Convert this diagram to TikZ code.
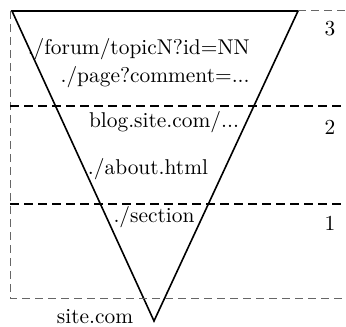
\documentclass[tikz,border=0pt]{standalone}
\usepackage{tikz}

\tikzset{
    level/.style={line width=1pt, dash pattern=on 4.5pt off 2.5pt},
    frame/.style={gray!80!black, line width=0.5pt, dash pattern=on 4pt off 2.5pt},
    url/.style={inner sep=1pt},
    every node/.style={font=\fontsize{10.7}{13}\selectfont}
}

\begin{document}
\begin{tikzpicture}[x=0.5pt,y=-0.5pt]
    \useasboundingbox (0,0) rectangle (346,326);
    % the funnel
    \coordinate (tl) at (12,11);
    \coordinate (tr) at (298,11);
    \coordinate (tip) at (154,321);
    \draw[line width=0.8pt, line join=miter] (tl) -- (tr) -- (tip) -- cycle;
    % outer frame
    \coordinate (f1) at (10,11);
    \coordinate (f2) at (10,298);
    \coordinate (f3) at (346,298);
    \coordinate (f4) at (298,11);
    \coordinate (f5) at (346,11);
    \draw[frame] (f1) -- (f2) -- (f3);
    \draw[frame] (f4) -- (f5);
    % levels
    \coordinate (a1) at (10,106);
    \coordinate (a2) at (346,106);
    \coordinate (b1) at (10,204);
    \coordinate (b2) at (346,204);
    \draw[level] (a1) -- (a2);
    \draw[level] (b1) -- (b2);
    \node (three) at (330,29) {3};
    \node (two) at (330,127) {2};
    \node (one) at (330,223) {1};
    % pages
    \node[url, anchor=east] (forum) at (252,49) {./forum/topicN?id=NN};
    \node[url, anchor=east] (page) at (252,77) {./page?comment=...};
    \node[url] (blog) at (164,122) {blog.site.com/...};
    \node[url] (about) at (148,169) {./about.html};
    \node[url] (section) at (154,217) {./section};
    \node[url, anchor=base] (root) at (95,323) {site.com};
\end{tikzpicture}
\end{document}
